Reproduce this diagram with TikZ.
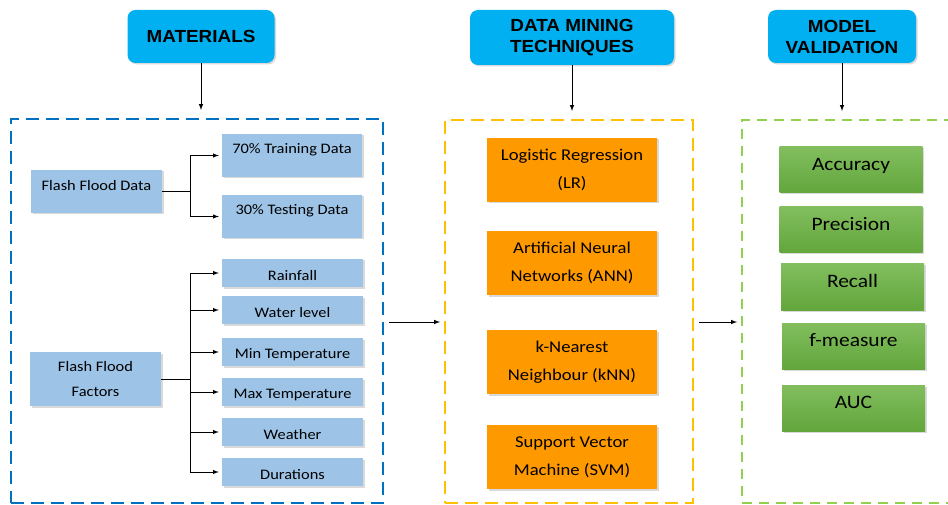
\documentclass[tikz,border=0pt]{standalone}
\usepackage{fontspec}
\setmainfont{Carlito}[FakeStretch=1.13]
\newfontfamily\headfont{Liberation Sans}[FakeStretch=1.08]
\usetikzlibrary{shapes,arrows,positioning,shadows}
\definecolor{headcyan}{HTML}{00B0F0}
\definecolor{boxblue}{HTML}{9DC3E6}
\definecolor{boxorange}{HTML}{FF9900}
\definecolor{greentop}{HTML}{82BE5E}
\definecolor{greenbot}{HTML}{62A63C}
\definecolor{frameblue}{HTML}{0070C0}
\definecolor{frameyellow}{HTML}{FFC000}
\definecolor{framegreen}{HTML}{92D050}

\begin{document}
\begin{tikzpicture}[x=1pt,y=-1pt,
    head/.style={fill=headcyan,rounded corners=8pt,align=center,
        font=\headfont\bfseries\fontsize{17.5}{21}\selectfont,
        drop shadow={shadow xshift=1.5pt,shadow yshift=-1.5pt,opacity=.3}},
    bluebox/.style={fill=boxblue,align=center,inner sep=0pt,
        font=\fontsize{14.5}{25}\selectfont,
        drop shadow={shadow xshift=1.5pt,shadow yshift=-1.5pt,opacity=.3}},
    factorbox/.style={bluebox,minimum width=141pt,minimum height=28pt,text height=15pt},
    orangebox/.style={fill=boxorange,align=center,inner sep=0pt,
        minimum width=170pt,minimum height=64pt,
        font=\fontsize{16.5}{28}\selectfont,
        drop shadow={shadow xshift=1.5pt,shadow yshift=-1.5pt,opacity=.3}},
    greenbox/.style={top color=greentop,bottom color=greenbot,inner sep=0pt,
        minimum width=143pt,minimum height=46pt,text depth=12pt,
        font=\fontsize{19}{23}\selectfont,
        drop shadow={shadow xshift=1.5pt,shadow yshift=-1.5pt,opacity=.3}},
    frame/.style={draw=#1,line width=2pt,dash pattern=on 13pt off 7pt},
    arr/.style={->,>=latex,line width=1pt}]
    \useasboundingbox (0,0) rectangle (948,505);
    % headers
    \node[head,minimum width=147pt,minimum height=53pt] (mat) at (201,36.5) {MATERIALS};
    \node[head,minimum width=204pt,minimum height=55pt] (dm) at (572,37.5) {DATA MINING\\TECHNIQUES};
    \node[head,minimum width=148pt,minimum height=53pt] (mv) at (842,36.5) {MODEL\\VALIDATION};
    % dashed frames
    \node[frame=frameblue,minimum width=372pt,minimum height=384pt] (matframe) at (197,311) {};
    \node[frame=frameyellow,minimum width=248pt,minimum height=383pt] (dmframe) at (569,311.5) {};
    \node[frame=framegreen,dash pattern=on 10pt off 7pt,minimum width=212pt,minimum height=383pt] (mvframe) at (848,311.5) {};
    \draw[arr,shorten >=8pt] (mat.south) -- (mat.south |- matframe.north);
    \draw[arr,shorten >=8pt] (dm.south) -- (dm.south |- dmframe.north);
    \draw[arr,shorten >=8pt] (mv.south) -- (mv.south |- mvframe.north);
    % materials
    \node[bluebox,minimum width=131pt,minimum height=43pt,text depth=13pt] (fdata) at (96.5,191.5) {Flash Flood Data};
    \node[bluebox,minimum width=140pt,minimum height=43pt,text depth=14pt] (train) at (292,155.5) {70\% Training Data};
    \node[bluebox,minimum width=140pt,minimum height=43pt,text depth=14pt] (test) at (292,216.5) {30\% Testing Data};
    \node[bluebox,minimum width=131pt,minimum height=54pt] (ffact) at (95.5,379) {Flash Flood\\Factors};
    \node[factorbox] (rain) at (292.5,273) {Rainfall};
    \node[factorbox] (wlev) at (292.5,310) {Water level};
    \node[factorbox] (tmin) at (292.5,352) {Min Temperature};
    \node[factorbox] (tmax) at (292.5,392) {Max Temperature};
    \node[factorbox] (wthr) at (292.5,432) {Weather};
    \node[factorbox] (dur) at (292.5,472) {Durations};
    \draw[line width=1pt] (fdata.east) -- ++(28,0) coordinate (fdj);
    \draw[arr,shorten >=3pt] (fdj) |- (train.west);
    \draw[arr,shorten >=3pt] (fdj) |- (test.west);
    \draw[line width=1pt] (ffact.east) -- ++(29,0) coordinate (ffj);
    \foreach \f in {rain,wlev,tmin,tmax,wthr,dur}
        \draw[arr,shorten >=3pt] (ffj) |- (\f.west);
    % techniques
    \node[orangebox] (lr) at (572,170) {Logistic Regression\\(LR)};
    \node[orangebox] (ann) at (572,263) {Artificial Neural\\Networks (ANN)};
    \node[orangebox] (knn) at (572,362) {k-Nearest\\Neighbour (kNN)};
    \node[orangebox] (svm) at (572,457) {Support Vector\\Machine (SVM)};
    % validation
    \node[greenbox] (acc) at (851,170) {Accuracy};
    \node[greenbox] (prec) at (851,230) {Precision};
    \node[greenbox] (rec) at (852.5,287) {Recall};
    \node[greenbox] (fmeas) at (853.5,346) {f-measure};
    \node[greenbox] (auc) at (853.5,408) {AUC};
    % links between columns
    \coordinate (midrow) at (0,322);
    \draw[arr,shorten <=5pt,shorten >=4pt] (matframe.east |- midrow) -- (dmframe.west |- midrow);
    \draw[arr,shorten <=5pt,shorten >=4pt] (dmframe.east |- midrow) -- (mvframe.west |- midrow);
\end{tikzpicture}
\end{document}
